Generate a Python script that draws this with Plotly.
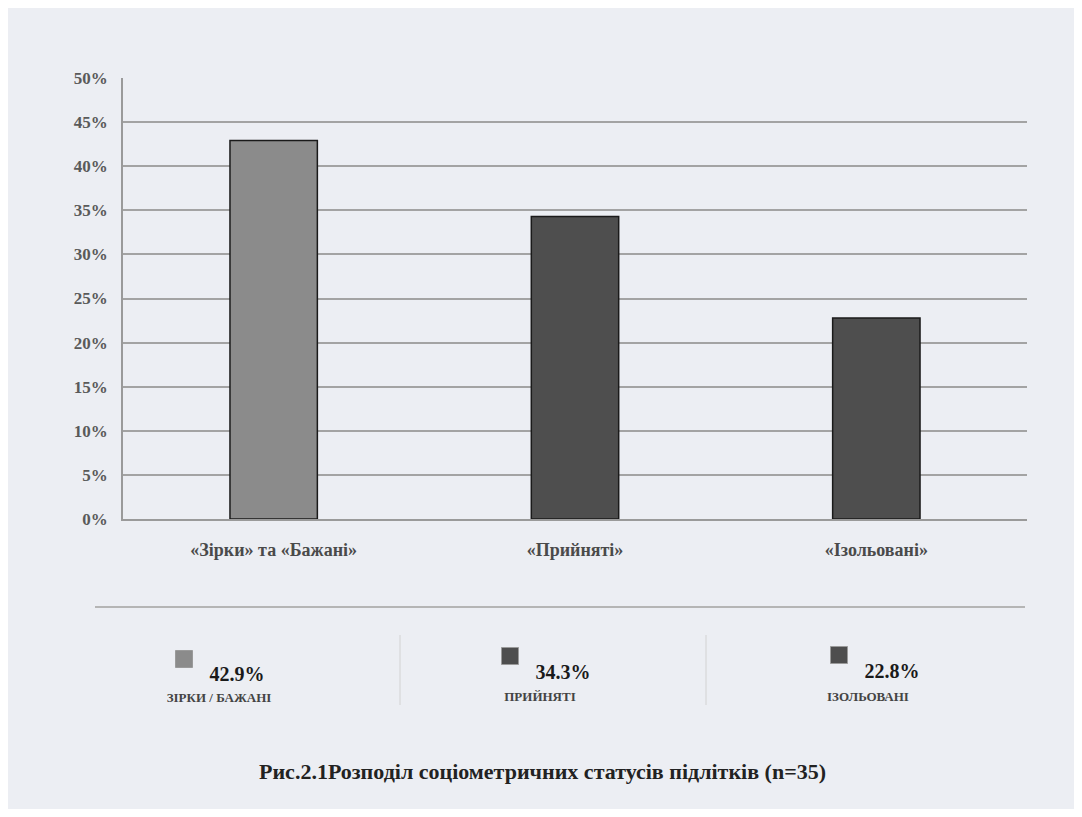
import plotly.graph_objects as go

categories = ["«Зірки» та «Бажані»", "«Прийняті»", "«Ізольовані»"]
values = [42.9, 34.3, 22.8]
legend_labels = ["ЗІРКИ / БАЖАНІ", "ПРИЙНЯТІ", "ІЗОЛЬОВАНІ"]
value_labels = ["42.9%", "34.3%", "22.8%"]
bar_colors = ["#8b8b8b", "#4e4e4e", "#4e4e4e"]
y_ticks = [0, 5, 10, 15, 20, 25, 30, 35, 40, 45, 50]
y_tick_text = [f"{v}%" for v in y_ticks]
title_text = "Рис.2.1Розподіл соціометричних статусів підлітків (n=35)"

OFF = 8  # page body offset
W, H = 1082 - 2 * OFF, 817 - 2 * OFF
FONT = "Liberation Serif, Times New Roman, serif"


def px(x):
    return (x - OFF) / W


def py(y):
    return (H - (y - OFF)) / H


fig = go.Figure()

fig.add_trace(go.Bar(
    x=categories, y=values,
    marker=dict(color=bar_colors, line=dict(color="#1a1a1a", width=1.5)),
    width=0.29, xaxis="x", yaxis="y", showlegend=False,
))

# legend row drawn in a pixel-like coordinate axis (reference pixel coords)
leg_sq_x = [184, 510, 839]
leg_sq_y = [659, 656, 655]
fig.add_trace(go.Scatter(
    x=leg_sq_x, y=leg_sq_y, mode="markers",
    marker=dict(symbol="square", size=17, color=bar_colors,
                line=dict(color="#9a9a9a", width=1)),
    xaxis="x2", yaxis="y2", showlegend=False, hoverinfo="skip",
))
fig.add_trace(go.Scatter(
    x=[237, 563, 892], y=[676, 674, 673], mode="text",
    text=[f"<b>{t}</b>" for t in value_labels],
    textfont=dict(family=FONT, size=20, color="#1a1a1a"),
    xaxis="x2", yaxis="y2", showlegend=False, hoverinfo="skip",
))
fig.add_trace(go.Scatter(
    x=[219, 540, 868], y=[699, 698, 698], mode="text",
    text=[f"<b>{t}</b>" for t in legend_labels],
    textfont=dict(family=FONT, size=13, color="#444"),
    xaxis="x2", yaxis="y2", showlegend=False, hoverinfo="skip",
))

fig.update_layout(
    width=W, height=H,
    autosize=False,
    margin=dict(l=0, r=0, t=0, b=0, pad=0),
    paper_bgcolor="#eceef3",
    plot_bgcolor="rgba(0,0,0,0)",
    font=dict(family=FONT, color="#444"),
    xaxis=dict(
        domain=[px(123), px(1027)],
        anchor="y", automargin=False,
        showgrid=False,
        showline=True, linecolor="#9a9a9a", linewidth=1.5,
        tickvals=categories,
        ticktext=[f"<b>{c}</b>" for c in categories],
        tickfont=dict(family=FONT, size=18, color="#4a4a4a"),
        ticks="", ticklabelstandoff=14,
    ),
    yaxis=dict(
        domain=[py(519), py(78)],
        anchor="x", automargin=False,
        range=[0, 50],
        tickvals=y_ticks,
        ticktext=[f"<b>{t}</b>" for t in y_tick_text],
        showgrid=True, gridcolor="#a3a3a3", gridwidth=1.8,
        showline=True, linecolor="#9a9a9a", linewidth=1.5,
        zeroline=False,
        tickfont=dict(family=FONT, size=17, color="#5a5a5a"),
        ticks="", ticklabelstandoff=10,
    ),
    xaxis2=dict(domain=[0, 1], anchor="y2", range=[OFF, OFF + W],
                visible=False, automargin=False),
    yaxis2=dict(domain=[0, 1], anchor="x2", range=[OFF + H, OFF],
                visible=False, automargin=False),
    shapes=[
        dict(type="line", xref="paper", yref="paper",
             x0=px(95), x1=px(1025), y0=py(607), y1=py(607),
             line=dict(color="#b5b5b5", width=2)),
        dict(type="line", xref="paper", yref="paper",
             x0=px(400), x1=px(400), y0=py(705), y1=py(635),
             line=dict(color="#d2d2d2", width=1)),
        dict(type="line", xref="paper", yref="paper",
             x0=px(706), x1=px(706), y0=py(705), y1=py(635),
             line=dict(color="#d2d2d2", width=1)),
    ],
    annotations=[
        dict(text=f"<b>{title_text}</b>", xref="paper", yref="paper",
             x=px(542), y=py(771), xanchor="center", yanchor="middle",
             showarrow=False,
             font=dict(family=FONT, size=22, color="#222")),
    ],
)

fig.write_html("out.html")
